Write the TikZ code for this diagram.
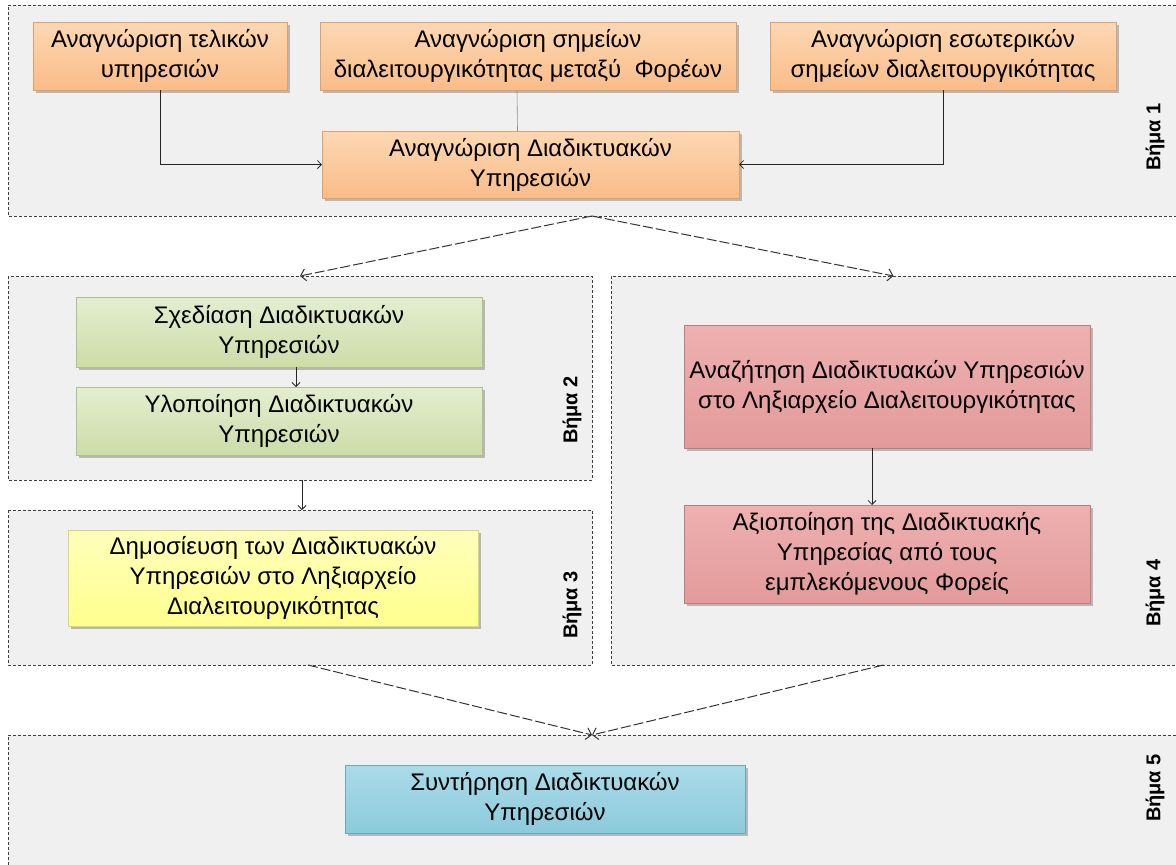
\documentclass[tikz,border=0pt]{standalone}
\usepackage{fontspec}
\setmainfont{Liberation Sans}
\usetikzlibrary{arrows.meta,shadows,calc}
\definecolor{bggray}{HTML}{F0F0F0}
\definecolor{steplinec}{HTML}{404040}
\definecolor{orangeT}{HTML}{FDD8B4}
\definecolor{orangeB}{HTML}{F9BC88}
\definecolor{orangeD}{HTML}{E0A06A}
\definecolor{greenT}{HTML}{E4EED0}
\definecolor{greenB}{HTML}{CDDCA8}
\definecolor{greenD}{HTML}{AFC186}
\definecolor{yellowT}{HTML}{FFFFBC}
\definecolor{yellowB}{HTML}{FFFF8E}
\definecolor{yellowD}{HTML}{D8D878}
\definecolor{redT}{HTML}{EEB0B0}
\definecolor{redB}{HTML}{E39A9A}
\definecolor{redD}{HTML}{C07C7C}
\definecolor{cyanT}{HTML}{ABDBE9}
\definecolor{cyanB}{HTML}{8CCADC}
\definecolor{cyanD}{HTML}{6AA8BA}
\begin{document}
\begin{tikzpicture}[x=1pt,y=-1pt,
  stepbg/.style={fill=bggray, draw=none, inner sep=0pt, outer sep=0pt},
  stepline/.style={draw=steplinec, line width=0.8pt, dash pattern=on 3pt off 2pt},
  steplabel/.style={rotate=90, font=\fontsize{20}{22}\selectfont\bfseries, inner sep=0pt},
  procbox/.style={rectangle, inner sep=0pt, outer sep=0pt, align=center,
     font=\fontsize{24}{30}\selectfont, line width=0.6pt,
     drop shadow={shadow xshift=2.5pt, shadow yshift=-2.5pt, opacity=0.45, fill=black!55}},
  orangebox/.style={procbox, top color=orangeT, bottom color=orangeB, draw=orangeD},
  greenbox/.style={procbox, top color=greenT, bottom color=greenB, draw=greenD},
  yellowbox/.style={procbox, top color=yellowT, bottom color=yellowB, draw=yellowD},
  redbox/.style={procbox, top color=redT, bottom color=redB, draw=redD},
  cyanbox/.style={procbox, top color=cyanT, bottom color=cyanB, draw=cyanD},
  conn/.style={draw=black!85, line width=0.8pt, -{Straight Barb[length=4pt,width=8pt]}},
  bigconn/.style={draw=black!80, line width=1pt, dash pattern=on 10pt off 3pt,
     -{Straight Barb[length=5pt,width=12pt]}}
]
\useasboundingbox (0,0) rectangle (1176,865);
\fill[white] (0,0) rectangle (1176,865);

% step areas
\node[stepbg, minimum width=1168pt, minimum height=211pt] (s1) at (592,110.5) {};
\node[stepbg, minimum width=584pt, minimum height=204pt] (s2) at (300,378) {};
\node[stepbg, minimum width=584pt, minimum height=155pt] (s3) at (300,587.5) {};
\node[stepbg, minimum width=565pt, minimum height=389pt] (s4) at (893.5,470.5) {};
\node[stepbg, minimum width=1168pt, minimum height=130pt] (s5) at (592,800) {};

\draw[stepline] (s1.north east) -- (s1.north west) -- (s1.south west) -- (s1.south east);
\draw[stepline] (s2.north west) rectangle (s2.south east);
\draw[stepline] (s3.north west) rectangle (s3.south east);
\draw[stepline] (s4.north east) -- (s4.north west) -- (s4.south west) -- (s4.south east);
\draw[stepline] (s5.north east) -- (s5.north west) -- (s5.south west);

% step labels
\node[steplabel] (l1) at (1155,137) {Βήμα 1};
\node[steplabel] (l2) at (572,410) {Βήμα 2};
\node[steplabel] (l3) at (572,605) {Βήμα 3};
\node[steplabel] (l4) at (1155,593) {Βήμα 4};
\node[steplabel] (l5) at (1155,788) {Βήμα 5};

% step 1 boxes
\node[orangebox, minimum width=254pt, minimum height=68pt] (A) at (160,56)
  {Αναγνώριση τελικών\\υπηρεσιών};
\node[orangebox, minimum width=416pt, minimum height=68pt] (B) at (528,56)
  {Αναγνώριση σημείων\\διαλειτουργικότητας μεταξύ\ \ Φορέων};
\node[orangebox, minimum width=346pt, minimum height=68pt] (C) at (943,56)
  {Αναγνώριση εσωτερικών\\σημείων διαλειτουργικότητας};
\node[orangebox, minimum width=417pt, minimum height=67pt] (D) at (530.5,164.5)
  {Αναγνώριση Διαδικτυακών\\Υπηρεσιών};

% step 2 boxes
\node[greenbox, minimum width=406pt, minimum height=70pt] (G1) at (279,332)
  {Σχεδίαση Διαδικτυακών\\Υπηρεσιών};
\node[greenbox, minimum width=406pt, minimum height=68pt] (G2) at (279,421)
  {Υλοποίηση Διαδικτυακών\\Υπηρεσιών};

% step 3 box
\node[yellowbox, minimum width=410pt, minimum height=96pt] (Y) at (273,578)
  {Δημοσίευση των Διαδικτυακών\\Υπηρεσιών στο Ληξιαρχείο\\Διαλειτουργικότητας};

% step 4 boxes
\node[redbox, minimum width=406pt, minimum height=123pt] (R1) at (887,386.5)
  {Αναζήτηση Διαδικτυακών Υπηρεσιών\\στο Ληξιαρχείο Διαλειτουργικότητας};
\node[redbox, minimum width=406pt, minimum height=98pt] (R2) at (887,554)
  {Αξιοποίηση της Διαδικτυακής\\Υπηρεσίας από τους\\εμπλεκόμενους Φορείς};

% step 5 box
\node[cyanbox, minimum width=400pt, minimum height=68pt] (CY) at (545,799)
  {Συντήρηση Διαδικτυακών\\Υπηρεσιών};

% connectors in step 1
\draw[conn] (A.south) |- (D.west);
\draw[conn] (C.south) |- (D.east);
\draw[draw=black!45, line width=0.6pt] ($(B.south)+(-11,0)$) -- ($(D.north)+(-13,0)$);

% step 2 internal
\draw[conn] ($(G1.south)+(17,0)$) -- ($(G2.north)+(17,0)$);
\draw[conn] ($(s2.south)+(2,0)$) -- ($(s3.north)+(2,0)$);

% step 4 internal
\draw[conn] ($(R1.south)+(-15,0)$) -- ($(R2.north)+(-15,0)$);

% big dashed arrows
\draw[bigconn] (s1.south) -- (s2.north);
\draw[bigconn] (s1.south) -- (s4.north);
\draw[bigconn] ($(s3.south)+(8,0)$) -- (s5.north);
\draw[bigconn] ($(s4.south)+(-10,0)$) -- (s5.north);
\end{tikzpicture}
\end{document}
